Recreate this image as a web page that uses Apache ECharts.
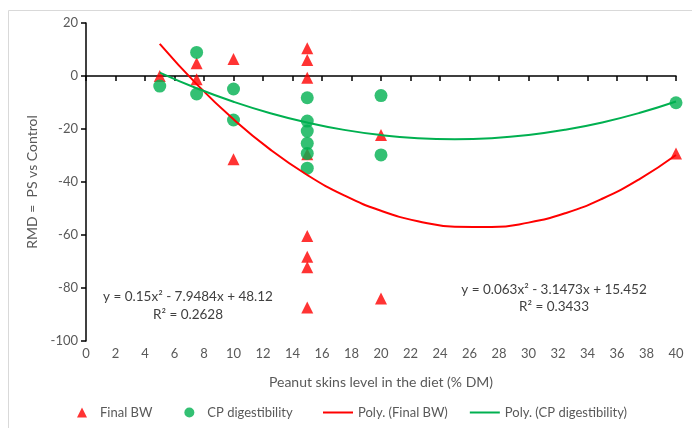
<!DOCTYPE html>
<html><head><meta charset="utf-8">
<script src="https://cdn.jsdelivr.net/npm/echarts@6/dist/echarts.min.js"></script>
<style>html,body{margin:0;padding:0;background:#fff}#c{width:692px;height:428px}</style>
</head><body><div id="c"></div>
<script>
// Final BW observations [x, y]
const finalBW = [[5,0],[7.5,4.8],[7.5,-1.2],[10,6.4],[10,-31.4],[15,10.5],[15,6.0],[15,-0.7],[15,-29.5],[15,-60.4],[15,-68.2],[15,-72.2],[15,-87.4],[20,-22.3],[20,-84],[40,-29.2]];
// CP digestibility observations [x, y]
const cpDig = [[5,-3.8],[7.5,8.9],[7.5,-6.8],[10,-4.9],[10,-16.6],[15,-8.2],[15,-17],[15,-20.8],[15,-25.4],[15,-29.2],[15,-34.8],[20,-7.4],[20,-29.8],[40,-10.1]];
// Trendline points
const trendX = [5,7.5,10,12.5,15,17.5,20,22.5,25,27.5,30,32.5,35,37.5,40];
const trendBW = [12.13,-3.06,-16.36,-27.80,-37.36,-45.04,-50.85,-54.78,-56.84,-57.02,-55.33,-51.77,-46.32,-39.01,-29.82];
const trendCP = [1.29,-4.61,-9.72,-14.05,-17.58,-20.33,-22.29,-23.47,-23.86,-23.46,-22.27,-20.29,-17.53,-13.98,-9.64];
const eqBW = ['y = 0.15x² - 7.9484x + 48.12', 'R² = 0.2628'];
const eqCP = ['y = 0.063x² - 3.1473x + 15.452', 'R² = 0.3433'];
const xName = 'Peanut skins level in the diet (% DM)';
const yName = 'RMD =  PS vs Control';

const FONT = 'Lato';
const TXT = '#595959';
const chart = echarts.init(document.getElementById('c'));
chart.setOption({
  animation: false,
  textStyle: {fontFamily: FONT},
  grid: {left: 86, right: 16, top: 23, bottom: 87},
  xAxis: [
    {type: 'value', min: 0, max: 40, interval: 2, position: 'bottom',
     axisLine: {show: false, onZero: false}, axisTick: {show: false}, splitLine: {show: false},
     axisLabel: {color: TXT, fontSize: 13, margin: 6, fontFamily: FONT},
     name: xName, nameLocation: 'middle', nameGap: 34,
     nameTextStyle: {color: TXT, fontSize: 14, fontFamily: FONT}},
    {type: 'value', min: 0, max: 40, interval: 2, position: 'bottom',
     axisLine: {show: true, onZero: true, lineStyle: {color: '#000', width: 1.5}},
     axisTick: {show: true, length: 5, lineStyle: {color: '#000', width: 1.5}},
     axisLabel: {show: false}, splitLine: {show: false}}
  ],
  yAxis: {type: 'value', min: -100, max: 20, interval: 20,
    axisLine: {show: true, onZero: false, lineStyle: {color: '#000', width: 1.5}},
    axisTick: {show: true, length: 5, lineStyle: {color: '#000', width: 1.5}},
    splitLine: {show: false},
    axisLabel: {color: TXT, fontSize: 13, margin: 8, fontFamily: FONT},
    name: yName, nameLocation: 'middle', nameGap: 37, nameRotate: 90,
    nameTextStyle: {color: TXT, fontSize: 14, fontFamily: FONT}},
  legend: [
    {data: [{name: 'Final BW', icon: 'triangle'}, {name: 'CP digestibility', icon: 'circle'}],
     left: 72, top: 401, itemWidth: 10, itemHeight: 10,
     itemGap: 32, textStyle: {color: TXT, fontSize: 13, fontFamily: FONT, padding: [0, 0, 0, 8]}},
    {data: ['Poly. (Final BW)', 'Poly. (CP digestibility)'], left: 318, top: 401, itemWidth: 30, itemHeight: 2,
     icon: 'rect', itemGap: 22, textStyle: {color: TXT, fontSize: 13, fontFamily: FONT}}
  ],
  graphic: [
    {type: 'rect', silent: true, z: -10, shape: {x: 8.5, y: 10.5, width: 720, height: 440},
     style: {fill: 'none', stroke: '#d9d9d9', lineWidth: 1}},
    {type: 'text', x: 188, y: 288, style: {text: eqBW[0] + '\n' + eqBW[1], fill: '#404040', font: '13.5px ' + FONT, align: 'center', lineHeight: 18}},
    {type: 'text', x: 554, y: 281, style: {text: eqCP[0] + '\n' + eqCP[1], fill: '#404040', font: '13.5px ' + FONT, align: 'center', lineHeight: 17}}
  ],
  series: [
    {name: 'Final BW', type: 'scatter', xAxisIndex: 0, symbol: 'triangle', symbolSize: 12,
     itemStyle: {color: '#ff0000'}, data: finalBW, z: 3},
    {name: 'CP digestibility', type: 'scatter', xAxisIndex: 0, symbol: 'circle', symbolSize: 13,
     itemStyle: {color: '#00b050'}, data: cpDig, z: 3},
    {name: 'Poly. (Final BW)', type: 'line', xAxisIndex: 0, smooth: true, symbol: 'none', showSymbol: false,
     lineStyle: {color: '#ff0000', width: 2}, itemStyle: {color: '#ff0000'},
     data: trendX.map((x, i) => [x, trendBW[i]]), z: 4},
    {name: 'Poly. (CP digestibility)', type: 'line', xAxisIndex: 0, smooth: true, symbol: 'none', showSymbol: false,
     lineStyle: {color: '#00b050', width: 2}, itemStyle: {color: '#00b050'},
     data: trendX.map((x, i) => [x, trendCP[i]]), z: 4}
  ]
});
</script></body></html>
